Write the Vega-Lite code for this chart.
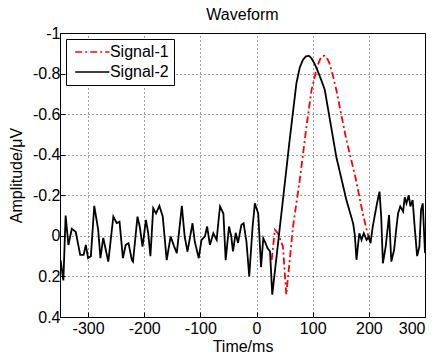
{
  "$schema": "https://vega.github.io/schema/vega-lite/v6.json",
  "width": 365,
  "height": 284,
  "autosize": {"type": "none"},
  "padding": {"left": 60, "top": 33, "right": 14, "bottom": 41},
  "background": "white",
  "config": {
    "font": "Liberation Sans",
    "view": {"stroke": "#000000", "strokeWidth": 1},
    "axis": {
      "labelFont": "Liberation Sans",
      "labelFontSize": 16,
      "labelColor": "#000000",
      "titleFont": "Liberation Sans",
      "titleFontSize": 16,
      "titleFontWeight": "normal",
      "titleColor": "#000000",
      "domain": false,
      "ticks": true,
      "tickSize": -5,
      "tickColor": "#000000",
      "labelPadding": 5,
      "grid": true,
      "gridColor": "#000000",
      "gridOpacity": 0.75,
      "gridDash": [1, 3],
      "gridWidth": 1
    }
  },
  "title": {"text": "Waveform", "fontSize": 16, "fontWeight": "normal", "font": "Liberation Sans", "color": "#000000", "offset": 2},
  "data": {
    "values": [
      {"series": "Signal-1", "t": 27, "v": 0.118},
      {"series": "Signal-1", "t": 32.6, "v": -0.03},
      {"series": "Signal-1", "t": 38, "v": -0.013},
      {"series": "Signal-1", "t": 47, "v": 0.053},
      {"series": "Signal-1", "t": 53, "v": 0.29},
      {"series": "Signal-1", "t": 65, "v": -0.046},
      {"series": "Signal-1", "t": 77, "v": -0.276},
      {"series": "Signal-1", "t": 89, "v": -0.54},
      {"series": "Signal-1", "t": 98, "v": -0.72},
      {"series": "Signal-1", "t": 108, "v": -0.834},
      {"series": "Signal-1", "t": 113, "v": -0.87},
      {"series": "Signal-1", "t": 117, "v": -0.885},
      {"series": "Signal-1", "t": 121, "v": -0.888},
      {"series": "Signal-1", "t": 125, "v": -0.88},
      {"series": "Signal-1", "t": 130, "v": -0.85},
      {"series": "Signal-1", "t": 136, "v": -0.79},
      {"series": "Signal-1", "t": 142, "v": -0.72},
      {"series": "Signal-1", "t": 160, "v": -0.473},
      {"series": "Signal-1", "t": 176, "v": -0.29},
      {"series": "Signal-1", "t": 190, "v": -0.1},
      {"series": "Signal-1", "t": 201.6, "v": 0.03},
      {"series": "Signal-2", "t": -349, "v": 0.12},
      {"series": "Signal-2", "t": -344, "v": 0.22},
      {"series": "Signal-2", "t": -340, "v": -0.1},
      {"series": "Signal-2", "t": -335, "v": 0.045},
      {"series": "Signal-2", "t": -329, "v": -0.035},
      {"series": "Signal-2", "t": -322, "v": -0.02},
      {"series": "Signal-2", "t": -314, "v": 0.094},
      {"series": "Signal-2", "t": -308, "v": 0.094},
      {"series": "Signal-2", "t": -304, "v": 0.045},
      {"series": "Signal-2", "t": -300, "v": 0.11},
      {"series": "Signal-2", "t": -295, "v": 0.1},
      {"series": "Signal-2", "t": -289, "v": -0.148},
      {"series": "Signal-2", "t": -282, "v": -0.03},
      {"series": "Signal-2", "t": -278, "v": 0.11},
      {"series": "Signal-2", "t": -273, "v": 0.01},
      {"series": "Signal-2", "t": -264, "v": 0.127},
      {"series": "Signal-2", "t": -255, "v": -0.095},
      {"series": "Signal-2", "t": -249, "v": -0.063},
      {"series": "Signal-2", "t": -244, "v": -0.07},
      {"series": "Signal-2", "t": -238, "v": 0.11},
      {"series": "Signal-2", "t": -233, "v": 0.045},
      {"series": "Signal-2", "t": -228, "v": 0.036},
      {"series": "Signal-2", "t": -222, "v": 0.12},
      {"series": "Signal-2", "t": -220, "v": 0.127},
      {"series": "Signal-2", "t": -212, "v": -0.095},
      {"series": "Signal-2", "t": -208, "v": -0.046},
      {"series": "Signal-2", "t": -203, "v": 0.053},
      {"series": "Signal-2", "t": -197, "v": -0.079},
      {"series": "Signal-2", "t": -193, "v": -0.015},
      {"series": "Signal-2", "t": -189, "v": 0.1},
      {"series": "Signal-2", "t": -184, "v": -0.136},
      {"series": "Signal-2", "t": -179, "v": -0.11},
      {"series": "Signal-2", "t": -173, "v": -0.148},
      {"series": "Signal-2", "t": -167, "v": -0.095},
      {"series": "Signal-2", "t": -160, "v": 0.12},
      {"series": "Signal-2", "t": -153, "v": 0.003},
      {"series": "Signal-2", "t": -147, "v": 0.05},
      {"series": "Signal-2", "t": -142, "v": 0.085},
      {"series": "Signal-2", "t": -133, "v": -0.148},
      {"series": "Signal-2", "t": -128, "v": 0.003},
      {"series": "Signal-2", "t": -123, "v": 0.077},
      {"series": "Signal-2", "t": -114, "v": -0.062},
      {"series": "Signal-2", "t": -110, "v": 0.028},
      {"series": "Signal-2", "t": -103, "v": 0.11},
      {"series": "Signal-2", "t": -98, "v": 0.02},
      {"series": "Signal-2", "t": -92, "v": 0.003},
      {"series": "Signal-2", "t": -88, "v": -0.046},
      {"series": "Signal-2", "t": -83, "v": 0.045},
      {"series": "Signal-2", "t": -77, "v": -0.013},
      {"series": "Signal-2", "t": -71, "v": 0.02},
      {"series": "Signal-2", "t": -67, "v": -0.095},
      {"series": "Signal-2", "t": -65, "v": -0.145},
      {"series": "Signal-2", "t": -59, "v": -0.11},
      {"series": "Signal-2", "t": -55, "v": 0.12},
      {"series": "Signal-2", "t": -49, "v": -0.046},
      {"series": "Signal-2", "t": -45, "v": 0.003},
      {"series": "Signal-2", "t": -42, "v": 0.077},
      {"series": "Signal-2", "t": -37, "v": -0.015},
      {"series": "Signal-2", "t": -33, "v": 0.035},
      {"series": "Signal-2", "t": -27, "v": -0.054},
      {"series": "Signal-2", "t": -23, "v": -0.062},
      {"series": "Signal-2", "t": -18, "v": 0.028},
      {"series": "Signal-2", "t": -13, "v": 0.2},
      {"series": "Signal-2", "t": -7, "v": -0.046},
      {"series": "Signal-2", "t": -3, "v": -0.16},
      {"series": "Signal-2", "t": 3, "v": -0.11},
      {"series": "Signal-2", "t": 8, "v": 0.154},
      {"series": "Signal-2", "t": 12, "v": 0.012},
      {"series": "Signal-2", "t": 16, "v": 0.036},
      {"series": "Signal-2", "t": 19.5, "v": 0.06},
      {"series": "Signal-2", "t": 24, "v": 0.077},
      {"series": "Signal-2", "t": 28, "v": 0.29},
      {"series": "Signal-2", "t": 38, "v": 0.044},
      {"series": "Signal-2", "t": 47, "v": -0.177},
      {"series": "Signal-2", "t": 59, "v": -0.473},
      {"series": "Signal-2", "t": 71, "v": -0.752},
      {"series": "Signal-2", "t": 77, "v": -0.83},
      {"series": "Signal-2", "t": 83, "v": -0.87},
      {"series": "Signal-2", "t": 88, "v": -0.885},
      {"series": "Signal-2", "t": 93, "v": -0.888},
      {"series": "Signal-2", "t": 98, "v": -0.875},
      {"series": "Signal-2", "t": 103, "v": -0.85},
      {"series": "Signal-2", "t": 107, "v": -0.826},
      {"series": "Signal-2", "t": 115, "v": -0.77},
      {"series": "Signal-2", "t": 121.5, "v": -0.72},
      {"series": "Signal-2", "t": 142, "v": -0.39},
      {"series": "Signal-2", "t": 160, "v": -0.177},
      {"series": "Signal-2", "t": 172, "v": -0.062},
      {"series": "Signal-2", "t": 175, "v": -0.005},
      {"series": "Signal-2", "t": 178, "v": 0.118},
      {"series": "Signal-2", "t": 183, "v": -0.013},
      {"series": "Signal-2", "t": 187, "v": 0.02},
      {"series": "Signal-2", "t": 191, "v": -0.013},
      {"series": "Signal-2", "t": 196, "v": 0.02},
      {"series": "Signal-2", "t": 200, "v": 0.003},
      {"series": "Signal-2", "t": 203, "v": 0.036},
      {"series": "Signal-2", "t": 207, "v": -0.046},
      {"series": "Signal-2", "t": 214.5, "v": -0.16},
      {"series": "Signal-2", "t": 219, "v": -0.218},
      {"series": "Signal-2", "t": 222, "v": -0.095},
      {"series": "Signal-2", "t": 225, "v": 0.135},
      {"series": "Signal-2", "t": 230, "v": 0.053},
      {"series": "Signal-2", "t": 236, "v": -0.103},
      {"series": "Signal-2", "t": 240, "v": 0.127},
      {"series": "Signal-2", "t": 245, "v": 0.069},
      {"series": "Signal-2", "t": 249, "v": -0.038},
      {"series": "Signal-2", "t": 252, "v": -0.11},
      {"series": "Signal-2", "t": 256, "v": -0.145},
      {"series": "Signal-2", "t": 261, "v": -0.12},
      {"series": "Signal-2", "t": 264, "v": -0.19},
      {"series": "Signal-2", "t": 267, "v": -0.16},
      {"series": "Signal-2", "t": 271, "v": -0.2},
      {"series": "Signal-2", "t": 274, "v": -0.145},
      {"series": "Signal-2", "t": 278, "v": -0.177},
      {"series": "Signal-2", "t": 282, "v": -0.03},
      {"series": "Signal-2", "t": 286, "v": 0.1},
      {"series": "Signal-2", "t": 290, "v": 0.053},
      {"series": "Signal-2", "t": 293, "v": -0.128},
      {"series": "Signal-2", "t": 296, "v": -0.16},
      {"series": "Signal-2", "t": 300, "v": 0.085}
    ]
  },
  "encoding": {
    "x": {
      "field": "t", "type": "quantitative",
      "scale": {"domain": [-350, 300], "nice": false, "zero": false},
      "axis": {"title": "Time/ms", "values": [-300, -200, -100, 0, 100, 200, 300], "labelExpr": "'' + datum.value", "labelPadding": 8, "titlePadding": 2}
    },
    "y": {
      "field": "v", "type": "quantitative",
      "scale": {"domain": [-1, 0.4], "reverse": true, "nice": false, "zero": false},
      "axis": {"title": "Amplitude/μV", "values": [-1, -0.8, -0.6, -0.4, -0.2, 0, 0.2, 0.4], "labelExpr": "'' + datum.value", "titlePadding": 8}
    },
    "color": {
      "field": "series", "type": "nominal",
      "scale": {"domain": ["Signal-1", "Signal-2"], "range": ["#ff0000", "#000000"]},
      "legend": {
        "title": null, "orient": "none", "legendX": 6, "legendY": 6,
        "fillColor": "white", "strokeColor": "#000000", "padding": 5,
        "labelFontSize": 16, "labelFont": "Liberation Sans", "labelColor": "#000000",
        "symbolType": "M-3,0H3", "symbolSize": 130, "symbolStrokeWidth": 1.5,
        "symbolOffset": 13.3, "labelOffset": 9.6,
        "rowPadding": 4, "cornerRadius": 0
      }
    },
    "strokeDash": {
      "field": "series", "type": "nominal",
      "scale": {"domain": ["Signal-1", "Signal-2"], "range": [[7, 3, 2, 3], [1, 0]]},
      "legend": {
        "title": null, "orient": "none", "legendX": 6, "legendY": 6,
        "fillColor": "white", "strokeColor": "#000000", "padding": 5,
        "labelFontSize": 16, "labelFont": "Liberation Sans", "labelColor": "#000000",
        "symbolType": "M-3,0H3", "symbolSize": 130, "symbolStrokeWidth": 1.5,
        "symbolOffset": 13.3, "labelOffset": 9.6,
        "rowPadding": 4, "cornerRadius": 0
      }
    },
    "order": {"field": "t", "type": "quantitative"}
  },
  "mark": {"type": "line", "strokeWidth": 1.8, "clip": true}
}
